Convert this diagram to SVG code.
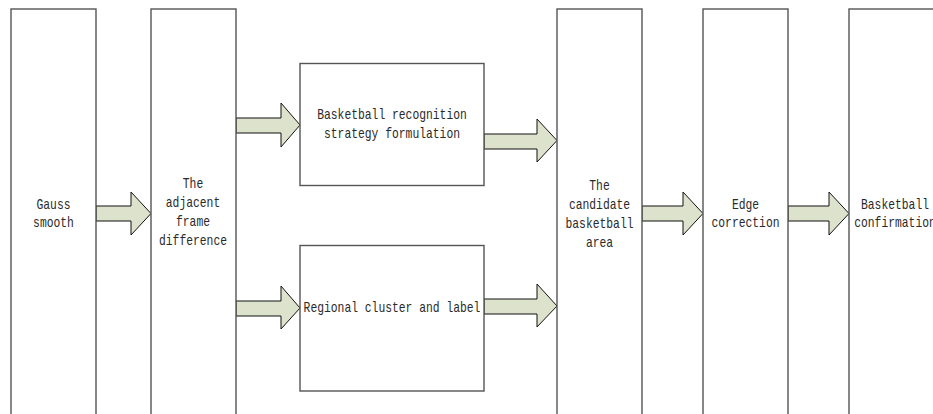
<svg xmlns="http://www.w3.org/2000/svg" width="933" height="414" viewBox="0 0 933 414">
<style>
.box{fill:#fff;stroke:#555;stroke-width:1.4}
.arr{fill:#dde2cc;stroke:#111;stroke-width:1}
text{font-family:"Liberation Mono","DejaVu Sans Mono",monospace;font-size:15px;fill:#2a2a2a;text-anchor:middle}
</style>
<rect width="933" height="414" fill="#fff"/>
<g id="connectors">
<polygon class="arr" points="96,206 131,206 131,192 151,213.5 131,235 131,221 96,221"/>
<polygon class="arr" points="236,118 281,118 281,103 300,125 281,147 281,133 236,133"/>
<polygon class="arr" points="484,134 537,134 537,119 557,140.5 537,162 537,149 484,149"/>
<polygon class="arr" points="236,301 281,301 281,286 300,308 281,329 281,316 236,316"/>
<polygon class="arr" points="484,299 537,299 537,284 557,306 537,327 537,314 484,314"/>
<polygon class="arr" points="642,206 683,206 683,192 703,213.5 683,235 683,221 642,221"/>
<polygon class="arr" points="788,206 829,206 829,192 849,213.5 829,235 829,221 788,221"/>
</g>
<g id="gauss">
<rect class="box" x="11" y="9" width="85" height="420"/>
<text x="53.5" y="209" textLength="34" lengthAdjust="spacingAndGlyphs">Gauss</text>
<text x="53.5" y="227" textLength="40.8" lengthAdjust="spacingAndGlyphs">smooth</text>
</g>
<g id="frame-diff">
<rect class="box" x="151" y="9" width="85" height="420"/>
<text x="193" y="188" textLength="20.4" lengthAdjust="spacingAndGlyphs">The</text>
<text x="193" y="207" textLength="54.4" lengthAdjust="spacingAndGlyphs">adjacent</text>
<text x="193" y="226" textLength="34" lengthAdjust="spacingAndGlyphs">frame</text>
<text x="193" y="245" textLength="68" lengthAdjust="spacingAndGlyphs">difference</text>
</g>
<g id="strategy">
<rect class="box" x="300" y="63.5" width="184" height="122"/>
<text x="392" y="119" textLength="149.6" lengthAdjust="spacingAndGlyphs">Basketball recognition</text>
<text x="392" y="138" textLength="136" lengthAdjust="spacingAndGlyphs">strategy formulation</text>
</g>
<g id="cluster">
<rect class="box" x="300" y="245.5" width="184" height="145.5"/>
<text x="392" y="312" textLength="176.8" lengthAdjust="spacingAndGlyphs">Regional cluster and label</text>
</g>
<g id="candidate">
<rect class="box" x="557" y="9" width="85" height="420"/>
<text x="599.5" y="190" textLength="20.4" lengthAdjust="spacingAndGlyphs">The</text>
<text x="599.5" y="209" textLength="61.2" lengthAdjust="spacingAndGlyphs">candidate</text>
<text x="599.5" y="228" textLength="68" lengthAdjust="spacingAndGlyphs">basketball</text>
<text x="599.5" y="247" textLength="27.2" lengthAdjust="spacingAndGlyphs">area</text>
</g>
<g id="edge">
<rect class="box" x="703" y="9" width="85" height="420"/>
<text x="745.5" y="209" textLength="27.2" lengthAdjust="spacingAndGlyphs">Edge</text>
<text x="745.5" y="227" textLength="68" lengthAdjust="spacingAndGlyphs">correction</text>
</g>
<g id="confirm">
<rect class="box" x="849" y="9" width="85" height="420"/>
<text x="895" y="209" textLength="68" lengthAdjust="spacingAndGlyphs">Basketball</text>
<text x="895" y="227" textLength="81.6" lengthAdjust="spacingAndGlyphs">confirmation</text>
</g>
</svg>
